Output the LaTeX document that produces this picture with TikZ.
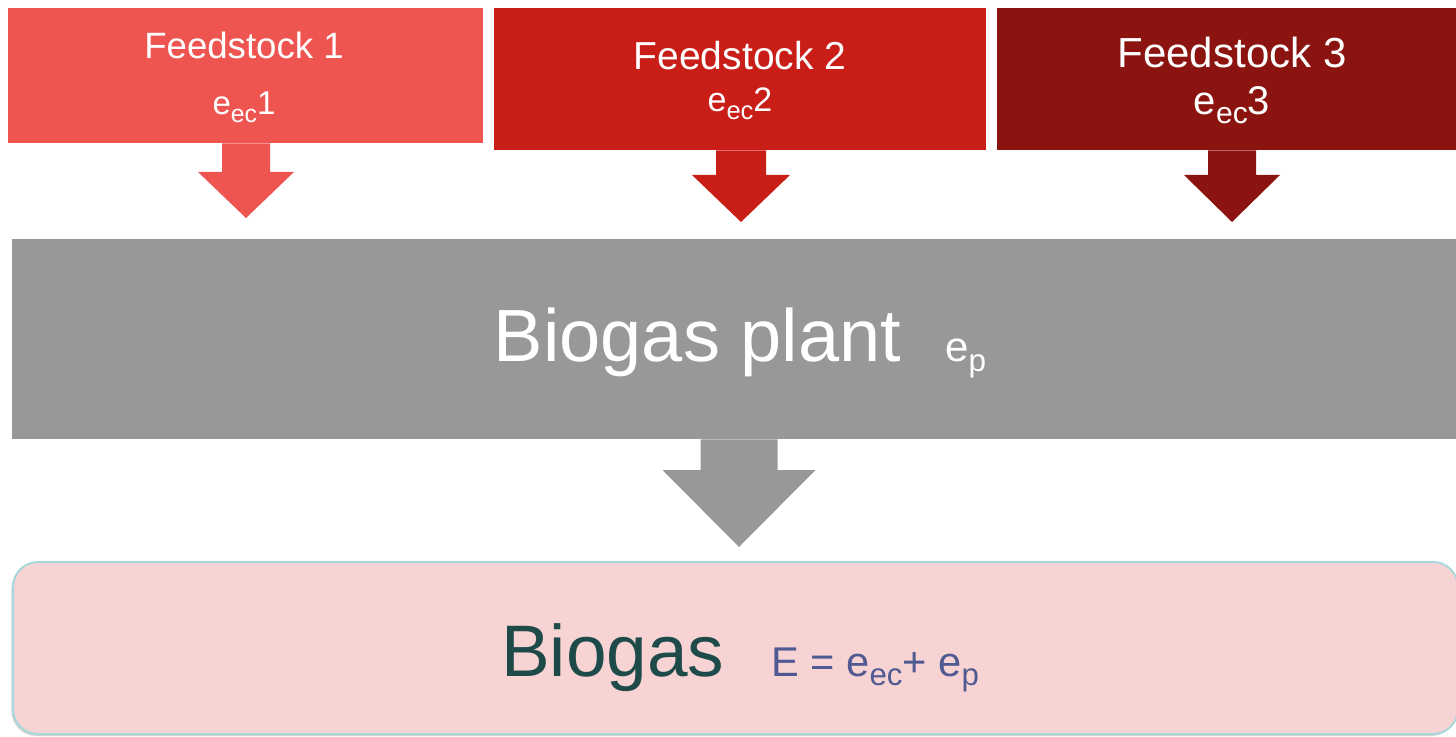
\documentclass[tikz,border=0pt]{standalone}
\usepackage{fontspec}
\setmainfont{Liberation Sans}
\usetikzlibrary{positioning, calc, shadows}

\definecolor{feedA}{HTML}{EF5550}
\definecolor{feedB}{HTML}{C91E17}
\definecolor{feedC}{HTML}{8B1410}
\definecolor{plantgray}{HTML}{989898}
\definecolor{gaspink}{HTML}{F8D3D3}
\definecolor{gasedge}{HTML}{A8D8DC}
\definecolor{gastext}{HTML}{1F4A4A}
\definecolor{formulablue}{HTML}{4F5A92}

\tikzset{
  feedbox/.style={rectangle, inner sep=0pt},
  feedtext/.style={anchor=base, inner sep=0pt, text=white},
  plantbox/.style={rectangle, inner sep=0pt, fill=plantgray},
  gasbox/.style={rectangle, rounded corners=12.5pt, inner sep=0pt, fill=gaspink, draw=gasedge, line width=1pt,
    drop shadow={opacity=0.35, shadow xshift=-0.8pt, shadow yshift=-1pt}}
}

% lowered subscript, a bit larger than \textsubscript
\newcommand{\subsc}[1]{\raisebox{-0.22em}{\scalebox{0.75}{#1}}}

% block arrow: start, tip, stem half width, head half width, head length, colour
\newcommand{\blockarrow}[6]{%
  \fill[#6] ($(#1)+(-#3,0)$) -- ($(#2)+(-#3,-#5)$) -- ($(#2)+(-#4,-#5)$) -- (#2)
    -- ($(#2)+(#4,-#5)$) -- ($(#2)+(#3,-#5)$) -- ($(#1)+(#3,0)$) -- cycle;}

\begin{document}
\begin{tikzpicture}[x=0.5pt, y=-0.5pt]
	\useasboundingbox (0,0) rectangle (1456,737);
	% feedstocks
	\node[feedbox, fill=feedA, minimum width=237.5pt, minimum height=67.5pt] (feed1) at (245.5,75.5) {};
	\node[feedbox, fill=feedB, minimum width=246pt, minimum height=71pt] (feed2) at (740,79) {};
	\node[feedbox, fill=feedC, minimum width=235pt, minimum height=71pt] (feed3) at (1232,79) {};
	\node[feedtext, font=\fontsize{18.3}{20}\selectfont] (name1) at (244,59) {Feedstock 1};
	\node[feedtext, font=\fontsize{16.5}{18}\selectfont] (ec1) at (244,115) {e\subsc{ec}1};
	\node[feedtext, font=\fontsize{19.5}{21}\selectfont] (name2) at (740,70) {Feedstock 2};
	\node[feedtext, font=\fontsize{17}{19}\selectfont] (ec2) at (740,112) {e\subsc{ec}2};
	\node[feedtext, font=\fontsize{21}{23}\selectfont] (name3) at (1232,68) {Feedstock 3};
	\node[feedtext, font=\fontsize{20}{22}\selectfont] (ec3) at (1232,115) {e\subsc{ec}3};
	% plant and product
	\node[plantbox, minimum width=724pt, minimum height=100pt] (plant) at (736,339) {};
	\node[feedtext, font=\fontsize{37}{40}\selectfont] (plantname) at (740,362)
		{Biogas plant\hspace{22pt}{\fontsize{21}{23}\selectfont e\subsc{p}}};
	\node[gasbox, minimum width=722.5pt, minimum height=86pt] (gas) at (735.5,648) {};
	\node[anchor=base, inner sep=0pt, text=gastext, font=\fontsize{36.5}{40}\selectfont] (gasname) at (740,676)
		{Biogas\hspace{23.5pt}{\fontsize{20.8}{23}\selectfont\color{formulablue}E = e\subsc{ec}+ e\subsc{p}}};
	% arrows
	\coordinate (tip1) at (246,218);
	\coordinate (tip2) at (741,222);
	\coordinate (tip3) at (1232,222);
	\coordinate (tip4) at (739,547);
	\coordinate (top1) at (tip1 |- feed1.south);
	\coordinate (top2) at (tip2 |- feed2.south);
	\coordinate (top3) at (tip3 |- feed3.south);
	\coordinate (top4) at (tip4 |- plant.south);
	\blockarrow{top1}{tip1}{24}{48}{46}{feedA}
	\blockarrow{top2}{tip2}{25}{49}{47}{feedB}
	\blockarrow{top3}{tip3}{24}{48}{47}{feedC}
	\blockarrow{top4}{tip4}{38.5}{76.5}{77}{plantgray}
\end{tikzpicture}
\end{document}
